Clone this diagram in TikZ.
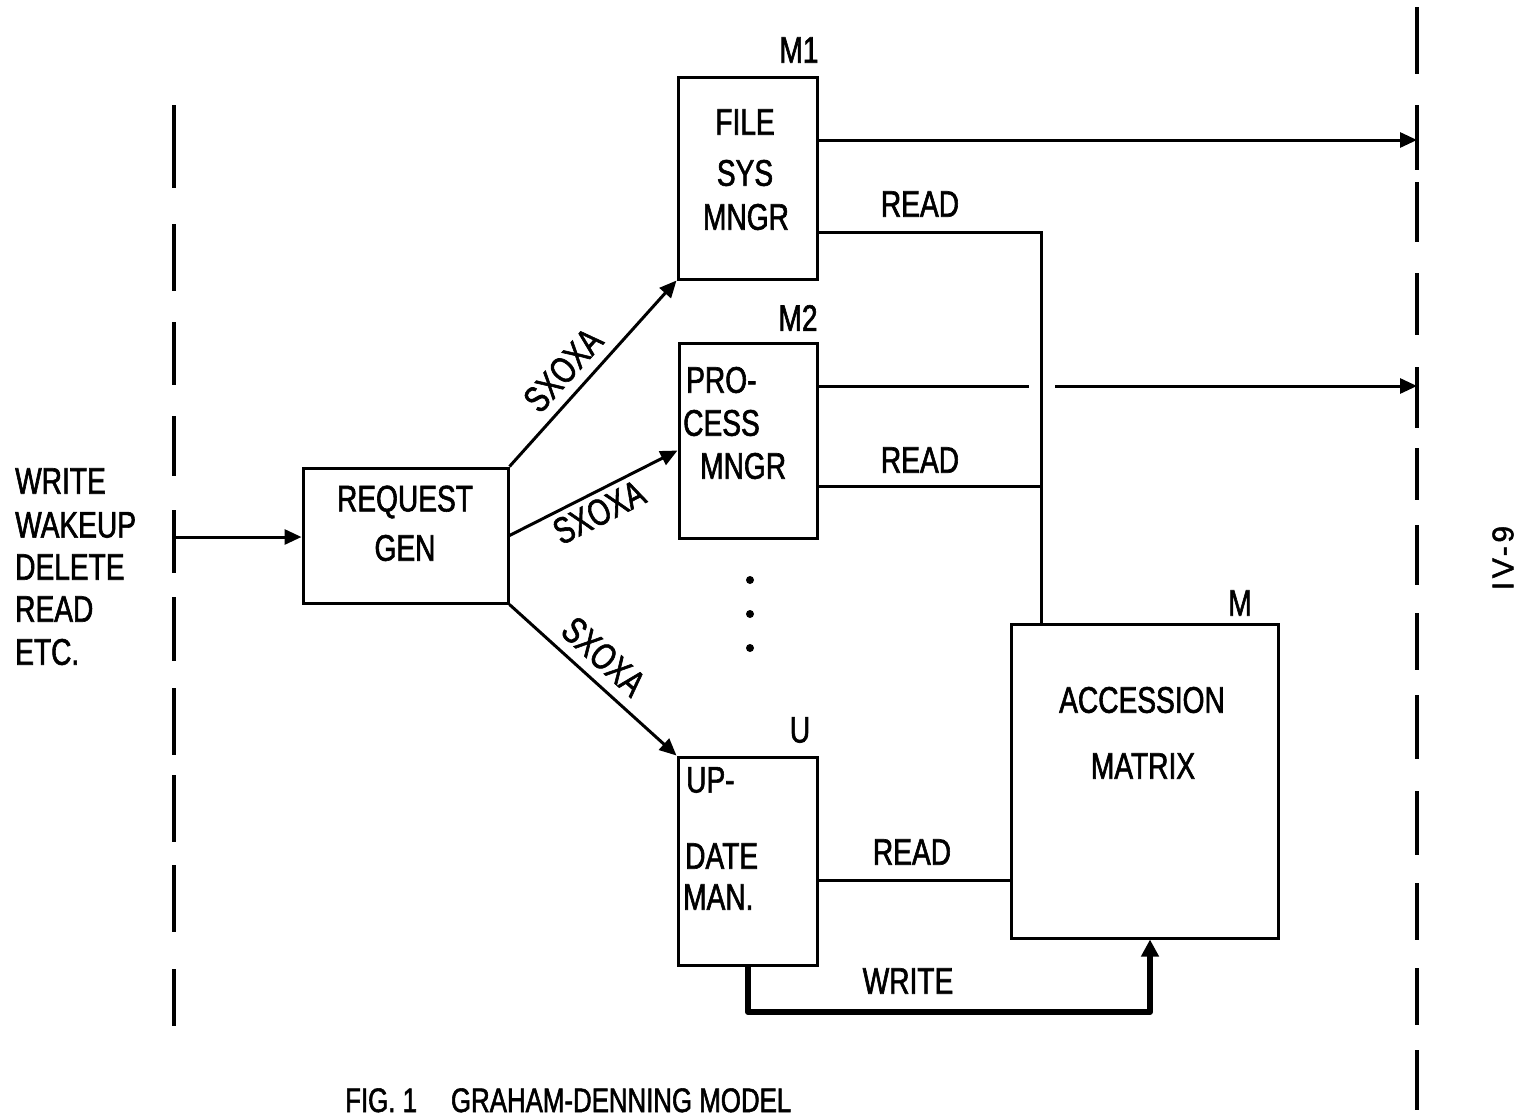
\documentclass[tikz,border=0pt]{standalone}
\usepackage{fontspec}
\setmainfont{Liberation Sans}[FakeStretch=0.76,FakeBold=1.6]
\newfontfamily\plainfont{Liberation Sans}[FakeBold=1.6,LetterSpace=12]
\usetikzlibrary{arrows.meta,calc}
\tikzset{
  box/.style={draw, line width=3pt, inner sep=0pt},
  txt/.style={font=\fontsize{37}{44}\selectfont, inner sep=0pt},
  wire/.style={line width=3pt},
  arr/.style={line width=3pt, -{Triangle[length=17pt,width=15pt]}},
  warr/.style={line width=6pt, line join=round, -{Triangle[length=17pt,width=17pt]}},
  bdash/.style={line width=4pt},
}
\begin{document}
\begin{tikzpicture}[x=1pt,y=-1pt]
\useasboundingbox (0,0) rectangle (1521,1117);
\fill[white] (0,0) rectangle (1521,1117);

% boundary dashed lines
\foreach \a/\b in {105/188,224/291,322/385,416/476,510/573,597/661,688/755,775/842,865/932,969/1026}
  \draw[bdash] (174,\a) -- (174,\b);
\foreach \a/\b in {7/74,105/170,182/242,273/335,367/428,448/500,525/585,613/670,695/759,791/855,883/940,968/1025,1050/1110}
  \draw[bdash] (1417,\a) -- (1417,\b);

% boxes
\node[box, minimum width=205pt, minimum height=135pt] (req) at (405.5,535.5) {};
\node[box, minimum width=139pt, minimum height=202pt] (m1) at (747.5,178) {};
\node[box, minimum width=138pt, minimum height=195pt] (m2) at (748,440.5) {};
\node[box, minimum width=139pt, minimum height=208pt] (u) at (747.5,861) {};
\node[box, minimum width=267pt, minimum height=314pt] (am) at (1144.5,781) {};

% box texts
\node[txt] (reqa) at (405,502) {REQUEST};
\node[txt] (reqb) at (405,548) {GEN};
\node[txt] (m1a) at (745,122) {FILE};
\node[txt] (m1b) at (745,173) {SYS};
\node[txt] (m1c) at (746,217) {MNGR};
\node[txt, anchor=west] (m2a) at (686,380) {PRO-};
\node[txt, anchor=west] (m2b) at (683,423) {CESS};
\node[txt, anchor=west] (m2c) at (700,466) {MNGR};
\node[txt, anchor=west] (ua) at (686,780) {UP-};
\node[txt, anchor=west] (ub) at (685,856) {DATE};
\node[txt, anchor=west] (uc) at (683,897) {MAN.};
\node[txt] (ama) at (1142,700) {ACCESSION};
\node[txt] (amb) at (1143,766) {MATRIX};

% box tags
\node[txt] (tm1) at (799,50) {M1};
\node[txt] (tm2) at (798,318) {M2};
\node[txt] (tu) at (800,730) {U};
\node[txt] (tm) at (1240,603) {M};

% input list
\node[txt, anchor=west] (i1) at (15,481) {WRITE};
\node[txt, anchor=west] (i2) at (15,525) {WAKEUP};
\node[txt, anchor=west] (i3) at (15,567) {DELETE};
\node[txt, anchor=west] (i4) at (15,609) {READ};
\node[txt, anchor=west] (i5) at (15,652) {ETC.};

% input arrow
\coordinate (inL) at (174,537);
\draw[arr] (inL) -- (inL -| req.west);

% SXOXA arrows
\draw[arr] (req.north east) -- node[txt, sloped, above=10pt, pos=0.43] (s1) {SXOXA} (m1.south west);
\draw[arr] (req.east) -- node[txt, sloped, below=5pt, pos=0.48] (s2) {SXOXA} ($(m2.west)+(0,10)$);
\draw[arr] (req.south east) -- node[txt, sloped, above=10pt, pos=0.465] (s3) {SXOXA} (u.north west);

% dots
\foreach \yy in {580,614,648}
  \fill (750,\yy) circle (4pt);

% outputs to right boundary
\coordinate (r1) at (1417,140);
\coordinate (r2) at (1417,386);
\draw[arr] (m1.east |- r1) -- (r1);
\coordinate (gapL) at (1029,386);
\coordinate (gapR) at (1055,386);
\draw[wire] (m2.east |- r2) -- (gapL);
\draw[arr] (gapR) -- (r2);

% READ connections
\coordinate (j1) at (1041,232);
\coordinate (j2) at (1041,486);
\coordinate (j3) at (1011,880);
\draw[wire] (m1.east |- j1) -- (j1) -- (j1 |- am.north);
\draw[wire] (m2.east |- j2) -- (j2);
\draw[wire] (u.east |- j3) -- (am.west |- j3);
\node[txt] (rd1) at (920,204) {READ};
\node[txt] (rd2) at (920,460) {READ};
\node[txt] (rd3) at (912,852) {READ};

% WRITE connection
\coordinate (w1) at (748,1012);
\coordinate (w2) at (1150,1012);
\draw[warr] (u.south -| w1) -- (w1) -- (w2) -- (w2 |- am.south);
\node[txt] (wr) at (908,981) {WRITE};

% page number and caption
\node[font=\plainfont\fontsize{30}{30}\selectfont, rotate=90, inner sep=0pt] (pg) at (1503,558) {IV-9};
\node[font=\fontsize{34}{34}\selectfont, anchor=base west, inner sep=0pt] (cap) at (345,1112) {FIG. 1\quad GRAHAM-DENNING MODEL};
\end{tikzpicture}
\end{document}
